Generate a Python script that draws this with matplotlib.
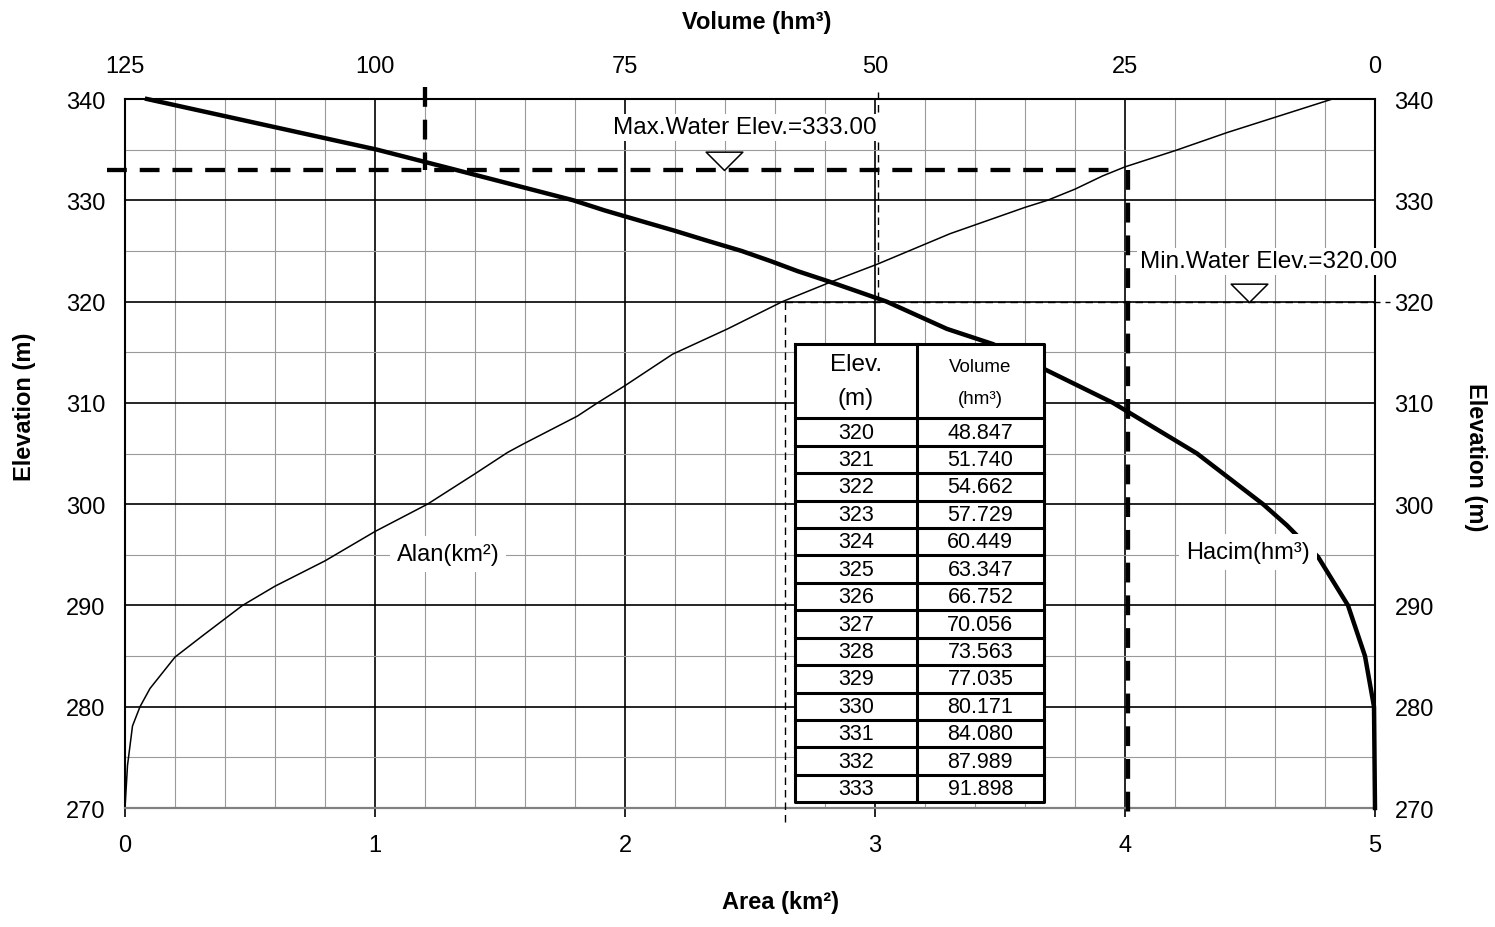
import numpy as np
import matplotlib
matplotlib.use("Agg")
import matplotlib.pyplot as plt
from matplotlib.path import Path
from matplotlib.patches import Rectangle

plt.rcParams['font.family'] = ['Liberation Sans', 'DejaVu Sans']

# elevation - area curve (m, km2)
area_elev = [270, 274.2, 278.1, 280, 281.8, 284.9, 287, 290, 291.9, 294.4, 297.3, 300,
             303, 305.1, 305.9, 308.7, 310, 311.7, 314.8, 317.3, 320, 322, 323.7,
             326.7, 329.3, 330, 331.1, 332.4, 333.3, 334.9, 336.7, 340]
area_km2 = [0.0, 0.01, 0.03, 0.06, 0.10, 0.20, 0.31, 0.47, 0.60, 0.80, 1.00, 1.21,
            1.40, 1.53, 1.59, 1.81, 1.89, 2.00, 2.19, 2.41, 2.63, 2.83, 3.01,
            3.30, 3.60, 3.69, 3.80, 3.91, 4.00, 4.20, 4.41, 4.83]

# elevation - volume table between min and max water levels
table_elev = [320, 321, 322, 323, 324, 325, 326, 327, 328, 329, 330, 331, 332, 333]
table_vol = [48.847, 51.740, 54.662, 57.729, 60.449, 63.347, 66.752, 70.056,
             73.563, 77.035, 80.171, 84.080, 87.989, 91.898]

# remaining parts of the elevation - volume curve
low_elev = [270, 280, 285, 290, 294.8, 297.9, 300, 305, 310, 313.3, 315.8, 317.3]
low_vol = [0.0, 0.1, 1.0, 2.7, 5.7, 8.8, 11.2, 17.8, 26.2, 33.0, 38.2, 42.8]
high_elev = [335, 340]
high_vol = [99.8, 122.8]

vol_elev = low_elev + table_elev + high_elev
vol_hm3 = low_vol + table_vol + high_vol

# operating levels
max_elev = 333.00
min_elev = 320.00
max_vol_mark = 95.0
max_area_mark = 4.01
min_vol_mark = 49.7
min_area_mark = 2.64

W, H = 1495, 928


def frac(x0, y0, x1, y1):
    return [x0 / W, 1 - y1 / H, (x1 - x0) / W, (y1 - y0) / H]


fig = plt.figure(figsize=(W / 100, H / 100), dpi=100)
ax = fig.add_axes(frac(125, 100, 1375, 809))
ax.set_xlim(0, 5)
ax.set_ylim(270, 340)
ax.set_xticks(range(6))
ax.set_xticks(np.arange(0, 5.01, 0.2), minor=True)
ax.set_yticks(range(270, 341, 10))
ax.set_yticks(range(270, 341, 5), minor=True)
ax.set_axisbelow(True)
ax.grid(which='major', color='black', lw=1.2)
ax.grid(which='minor', color='#9a9a9a', lw=0.8)
ax.tick_params(axis='x', which='major', direction='out', length=6.5, width=1.2,
               pad=12, labelsize=17)
ax.tick_params(axis='x', which='minor', length=0)
ax.tick_params(axis='y', which='both', length=0, pad=14, labelsize=17,
               left=True, right=True, labelleft=True, labelright=True)
for side in ['left', 'right', 'top']:
    ax.spines[side].set_linewidth(1.5)
    ax.spines[side].set_color('black')
ax.spines['bottom'].set_linewidth(1.6)
ax.spines['bottom'].set_color('#808080')

ax.plot(area_km2, area_elev, color='black', lw=1.1, zorder=2, clip_on=False)

# volume axis on top, running backwards
ax2 = ax.twiny()
ax2.set_xlim(125, 0)
ax2.set_xticks([125, 100, 75, 50, 25, 0])
ax2.tick_params(axis='x', length=0, pad=16, labelsize=17)
for s in ax2.spines.values():
    s.set_visible(False)

ax2.plot(vol_hm3, vol_elev, color='black', lw=3.2, zorder=3, clip_on=False)

thick = dict(color='black', lw=3.1, dashes=(4.6, 3.0), clip_on=False, zorder=4)
thin = dict(color='black', lw=1.0, dashes=(5.4, 3.6), clip_on=False, zorder=4)

# max water level lines
ax2.plot([-0.072, max_area_mark - 0.06], [max_elev, max_elev],
         transform=ax.transData, **thick)
ax2.plot([max_vol_mark, max_vol_mark], [341.2, max_elev], **thick)
ax2.plot([max_area_mark, max_area_mark], [max_elev, 268.9],
         transform=ax.transData, **thick)

# min water level lines
ax2.plot([min_area_mark, 5.06], [min_elev, min_elev], transform=ax.transData, **thin)
ax2.plot([min_area_mark, min_area_mark], [min_elev, 268.4], transform=ax.transData, **thin)
ax2.plot([min_vol_mark, min_vol_mark], [340.7, min_elev], **thin)

tri = Path([(-1, 1), (1, 1), (0, 0), (-1, 1)],
           [Path.MOVETO, Path.LINETO, Path.LINETO, Path.CLOSEPOLY])
for xa, el in [(2.397, max_elev), (4.495, min_elev)]:
    ax2.plot([xa], [el], transform=ax.transData, marker=tri, markersize=26.4,
             mfc='white', mec='black', mew=1.1, ls='none', zorder=5, clip_on=False)

box = dict(facecolor='white', edgecolor='none', boxstyle='square,pad=0.12')
ax2.text(2.48, 337.19, 'Max.Water Elev.=333.00', transform=ax.transData,
         ha='center', va='center', fontsize=17.5, bbox=box, zorder=6)
ax2.text(4.575, 323.96, 'Min.Water Elev.=320.00', transform=ax.transData,
         ha='center', va='center', fontsize=17.5, bbox=box, zorder=6, clip_on=False)

lbox = dict(facecolor='white', edgecolor='none', boxstyle='square,pad=0.3')
ax2.text(1.292, 295.08, 'Alan(km²)', transform=ax.transData,
         ha='center', va='center', fontsize=17, bbox=lbox, zorder=6)
ax2.text(4.492, 295.28, 'Hacim(hm³)', transform=ax.transData,
         ha='center', va='center', fontsize=17, bbox=lbox, zorder=6)

# elevation - volume table
tab = fig.add_axes(frac(795, 345, 1044, 803.3))
tw, th = 249, 458.3
head_h = 74.3
row_h = (th - head_h) / len(table_elev)
col_x = 121.7
tab.set_xlim(0, tw)
tab.set_ylim(th, 0)
tab.axis('off')
tab.add_patch(Rectangle((0, 0), tw, th, facecolor='white', edgecolor='none'))
lk = dict(color='black', lw=2.2, clip_on=False, solid_capstyle='projecting')
tab.plot([0, tw, tw, 0, 0], [0, 0, th, th, 0], **lk)
tab.plot([col_x, col_x], [0, th], **lk)
for i in range(len(table_elev)):
    y = head_h + i * row_h
    tab.plot([0, tw], [y, y], **lk)

c1 = col_x / 2
c2 = (col_x + tw) / 2
tab.text(c1, 19.7, 'Elev.', ha='center', va='center', fontsize=17.5)
tab.text(c1, 54, '(m)', ha='center', va='center', fontsize=17.5)
tab.text(c2, 23, 'Volume', ha='center', va='center', fontsize=13.5)
tab.text(c2, 55, '(hm³)', ha='center', va='center', fontsize=13.5)
for i, (e, v) in enumerate(zip(table_elev, table_vol)):
    y = head_h + (i + 0.5) * row_h
    tab.text(c1, y, str(e), ha='center', va='center', fontsize=15.5)
    tab.text(c2, y, f"{v:.3f}", ha='center', va='center', fontsize=15.5)

fig.text(25 / W, 1 - 407 / H, 'Elevation (m)', rotation=90, ha='center', va='center',
         fontsize=17, fontweight='bold')
fig.text(1475 / W, 1 - 457 / H, 'Elevation (m)', rotation=270, ha='center', va='center',
         fontsize=17, fontweight='bold')
fig.text(757 / W, 1 - 22 / H, 'Volume (hm³)', ha='center', va='center',
         fontsize=17, fontweight='bold')
fig.text(780 / W, 1 - 903 / H, 'Area (km²)', ha='center', va='center',
         fontsize=17, fontweight='bold')

fig.savefig('out.png', dpi=100)
